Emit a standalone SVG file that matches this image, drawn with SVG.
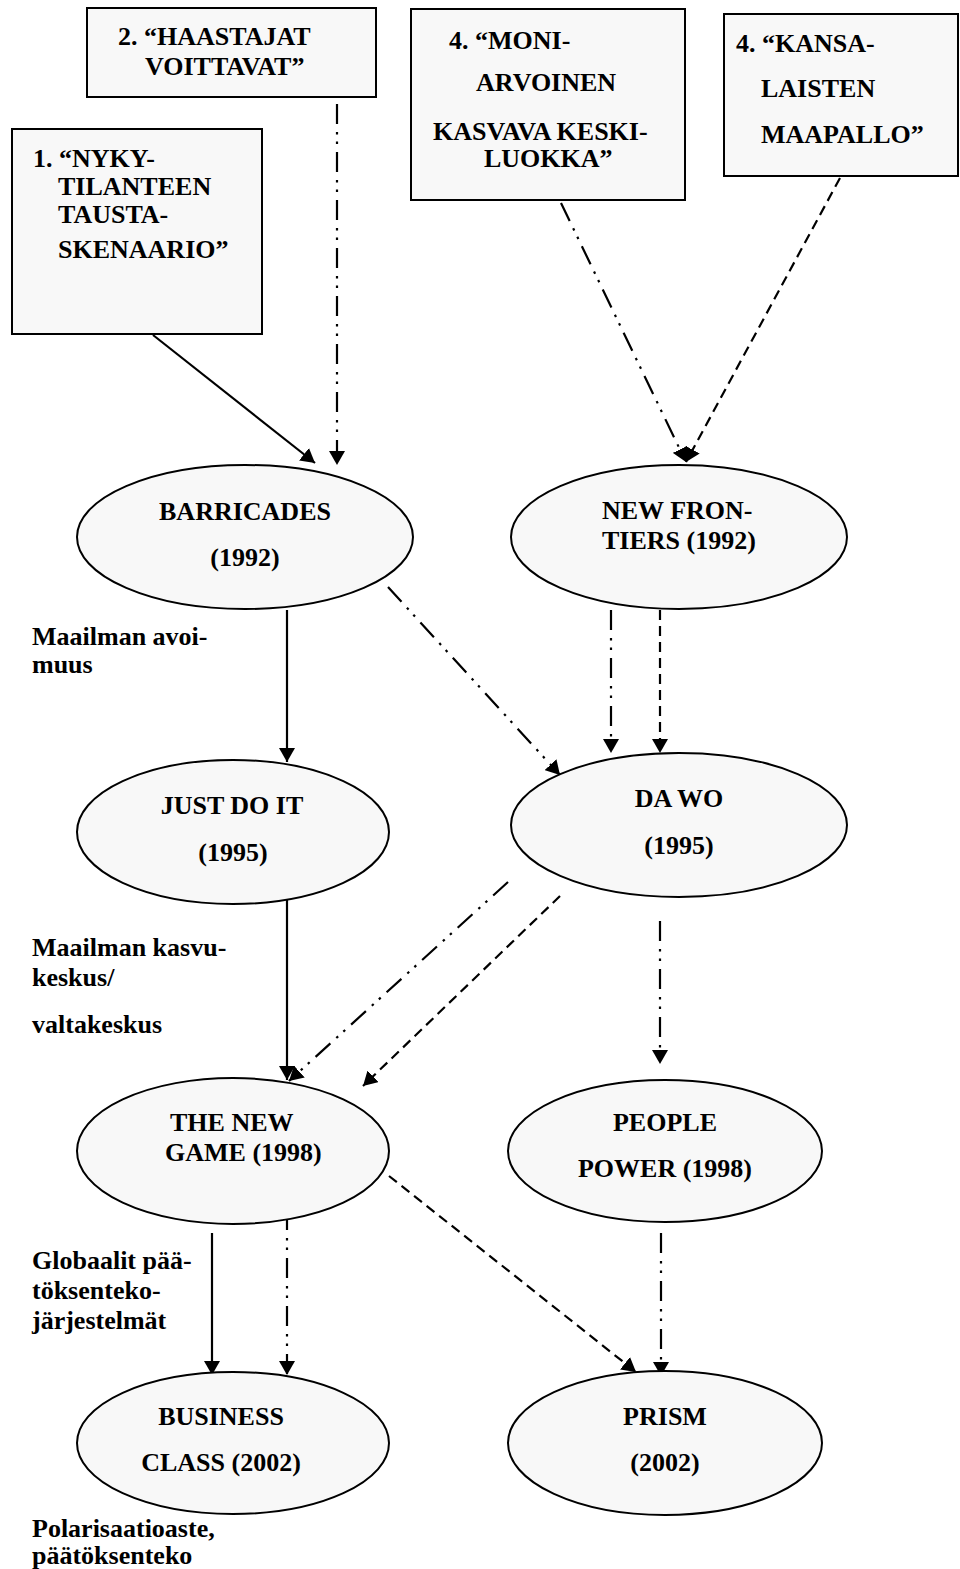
<svg xmlns="http://www.w3.org/2000/svg" width="960" height="1569" viewBox="0 0 960 1569">
<style>
.box{fill:#f8f8f8;stroke:#000;stroke-width:2}
.t{font-family:"Liberation Serif","Times New Roman",serif;font-weight:bold;font-size:26px;fill:#000}
.c{text-anchor:middle}
.ln{fill:none;stroke:#000;stroke-width:2.2}
.solid{marker-end:url(#ah)}
.dd{stroke-dasharray:20 8 2.5 7 2.5 8;marker-end:url(#ah)}
.da{stroke-dasharray:10 6;marker-end:url(#ah)}
</style>
<defs>
<marker id="ah" viewBox="0 0 14 16" refX="14" refY="8" markerWidth="14" markerHeight="16" markerUnits="userSpaceOnUse" orient="auto">
<path d="M0,0 L14,8 L0,16 z" fill="#000"/>
</marker>
</defs>
<rect width="960" height="1569" fill="#fff"/>

<g id="connectors">
<line class="ln solid" x1="153" y1="335" x2="315" y2="463"/>
<line class="ln dd" x1="337" y1="104" x2="337" y2="465"/>
<line class="ln dd" x1="561" y1="203" x2="686" y2="462"/>
<line class="ln da" x1="840" y1="178" x2="686" y2="462"/>
<line class="ln dd" x1="388" y1="587" x2="560" y2="775"/>
<line class="ln solid" x1="287" y1="610" x2="287" y2="762"/>
<line class="ln dd" x1="611" y1="610" x2="611" y2="753"/>
<line class="ln da" x1="660" y1="610" x2="660" y2="753"/>
<line class="ln solid" x1="287" y1="897" x2="287" y2="1080"/>
<line class="ln dd" x1="508" y1="882" x2="289" y2="1081"/>
<line class="ln da" x1="560" y1="896" x2="363" y2="1086"/>
<line class="ln dd" x1="660" y1="921" x2="660" y2="1064"/>
<line class="ln da" x1="389" y1="1176" x2="636" y2="1372"/>
<line class="ln dd" x1="661" y1="1233" x2="661" y2="1376"/>
<line class="ln solid" x1="212" y1="1233" x2="212" y2="1375"/>
<line class="ln dd" x1="287" y1="1210" x2="287" y2="1375"/>
</g>

<g id="box-haastajat">
<rect class="box" x="87" y="8" width="289" height="89"/>
<text class="t" x="118" y="45">2. “HAASTAJAT</text>
<text class="t" x="145" y="75">VOITTAVAT”</text>
</g>

<g id="box-nykytilanteen">
<rect class="box" x="12" y="129" width="250" height="205"/>
<text class="t" x="33" y="167">1. “NYKY-</text>
<text class="t" x="58" y="195">TILANTEEN</text>
<text class="t" x="58" y="223">TAUSTA-</text>
<text class="t" x="58" y="258">SKENAARIO”</text>
</g>

<g id="box-moniarvoinen">
<rect class="box" x="411" y="9" width="274" height="191"/>
<text class="t" x="449" y="49">4. “MONI-</text>
<text class="t" x="476" y="91">ARVOINEN</text>
<text class="t" x="433" y="140">KASVAVA KESKI-</text>
<text class="t" x="484" y="167">LUOKKA”</text>
</g>

<g id="box-kansalaisten">
<rect class="box" x="724" y="14" width="234" height="162"/>
<text class="t" x="736" y="52">4. “KANSA-</text>
<text class="t" x="761" y="97">LAISTEN</text>
<text class="t" x="761" y="143">MAAPALLO”</text>
</g>

<g id="node-barricades">
<ellipse class="box" cx="245" cy="537" rx="168" ry="72"/>
<text class="t c" x="245" y="520">BARRICADES</text>
<text class="t c" x="245" y="566">(1992)</text>
</g>

<g id="node-newfrontiers">
<ellipse class="box" cx="679" cy="537" rx="168" ry="72"/>
<text class="t" x="602" y="519">NEW FRON-</text>
<text class="t" x="602" y="549">TIERS (1992)</text>
</g>

<g id="node-justdoit">
<ellipse class="box" cx="233" cy="832" rx="156" ry="72"/>
<text class="t c" x="232" y="814">JUST DO IT</text>
<text class="t c" x="233" y="861">(1995)</text>
</g>

<g id="node-dawo">
<ellipse class="box" cx="679" cy="825" rx="168" ry="72"/>
<text class="t c" x="679" y="807">DA WO</text>
<text class="t c" x="679" y="854">(1995)</text>
</g>

<g id="node-newgame">
<ellipse class="box" cx="233" cy="1151" rx="156" ry="73"/>
<text class="t" x="170" y="1131">THE NEW</text>
<text class="t" x="165" y="1161">GAME (1998)</text>
</g>

<g id="node-peoplepower">
<ellipse class="box" cx="665" cy="1151" rx="157" ry="71"/>
<text class="t c" x="665" y="1131">PEOPLE</text>
<text class="t c" x="665" y="1177">POWER (1998)</text>
</g>

<g id="node-businessclass">
<ellipse class="box" cx="233" cy="1443" rx="156" ry="71"/>
<text class="t c" x="221" y="1425">BUSINESS</text>
<text class="t c" x="221" y="1471">CLASS (2002)</text>
</g>

<g id="node-prism">
<ellipse class="box" cx="665" cy="1443" rx="157" ry="72"/>
<text class="t c" x="665" y="1425">PRISM</text>
<text class="t c" x="665" y="1471">(2002)</text>
</g>

<g id="labels">
<text class="t" x="32" y="645">Maailman avoi-</text>
<text class="t" x="32" y="673">muus</text>
<text class="t" x="32" y="956">Maailman kasvu-</text>
<text class="t" x="32" y="986">keskus/</text>
<text class="t" x="32" y="1033">valtakeskus</text>
<text class="t" x="32" y="1269">Globaalit pää-</text>
<text class="t" x="32" y="1299">töksenteko-</text>
<text class="t" x="32" y="1329">järjestelmät</text>
<text class="t" x="32" y="1537">Polarisaatioaste,</text>
<text class="t" x="32" y="1564">päätöksenteko</text>
</g>
</svg>
